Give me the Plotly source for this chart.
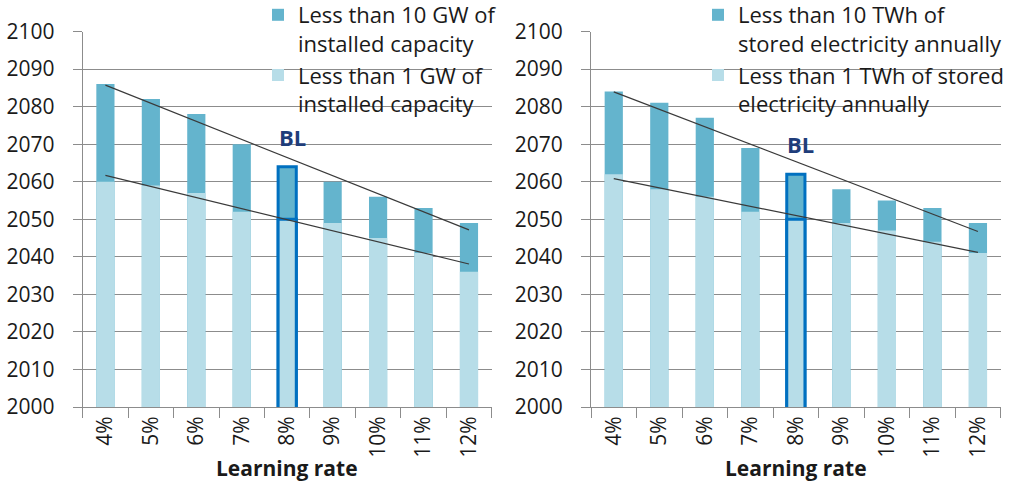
import numpy as np
import plotly.graph_objects as go

categories = ["4%", "5%", "6%", "7%", "8%", "9%", "10%", "11%", "12%"]

# Left chart: year when capacity installed falls below threshold
gw10 = [2086, 2082, 2078, 2070, 2064, 2060, 2056, 2053, 2049]
gw1 = [2060, 2059, 2057, 2052, 2050, 2049, 2045, 2041, 2036]

# Right chart: stored electricity annually
twh10 = [2084, 2081, 2077, 2069, 2062, 2058, 2055, 2053, 2049]
twh1 = [2062, 2058, 2056, 2052, 2050, 2049, 2047, 2044, 2041]

baseline = "8%"
y_ticks = list(range(2000, 2101, 10))

DARK = "#64B4CD"
LIGHT = "#B7DDE8"
HILITE = "#0070C0"
GRID = "#8C8C8C"
FONT = "Open Sans"
TXT = "#1a1a1a"

W, H = 1014, 482

def line_props(cats):
    colors = [HILITE if c == baseline else "rgba(0,0,0,0)" for c in cats]
    widths = [3 if c == baseline else 0 for c in cats]
    return dict(color=colors, width=widths)

def trend(vals):
    x = np.arange(len(vals))
    k, b = np.polyfit(x, vals, 1)
    return list(k * x + b)

fig = go.Figure()

panels = [
    ("x", "y", gw10, gw1, "Less than 10 GW of<br>installed capacity",
     "Less than 1 GW of<br>installed capacity", "legend"),
    ("x2", "y2", twh10, twh1, "Less than 10 TWh of<br>stored electricity annually",
     "Less than 1 TWh of stored<br>electricity annually", "legend2"),
]

for xa, ya, hi, lo, name_hi, name_lo, leg in panels:
    fig.add_trace(go.Bar(x=categories, y=hi, xaxis=xa, yaxis=ya, name=name_hi,
                         marker=dict(color=DARK, line=line_props(categories)),
                         width=0.4, legend=leg))
    fig.add_trace(go.Bar(x=categories, y=lo, xaxis=xa, yaxis=ya, name=name_lo,
                         marker=dict(color=LIGHT, line=line_props(categories)),
                         width=0.4, legend=leg))
    for vals in (hi, lo):
        fig.add_trace(go.Scatter(x=categories, y=trend(vals), xaxis=xa, yaxis=ya,
                                 mode="lines", line=dict(color="#3A3A3A", width=1.2),
                                 showlegend=False, hoverinfo="skip"))
    idx = categories.index(baseline)
    fig.add_annotation(x=baseline, y=hi[idx], xref=xa, yref=ya, text="<b>BL</b>",
                       showarrow=False, yanchor="bottom", xanchor="center",
                       yshift=13, xshift=5,
                       font=dict(family=FONT, size=22, color="#1F3D7A"))

ydom = [1 - 407 / H, 1 - 31.5 / H]
xdoms = [[82.7 / W, 491.7 / W], [591 / W, 1000.7 / W]]

axis_common_x = dict(type="category", showgrid=False, showline=True, linecolor=GRID,
                     linewidth=1, ticks="outside", tickson="boundaries", ticklen=10,
                     tickcolor=GRID, tickangle=-90, automargin=False,
                     tickfont=dict(family=FONT, size=21, color=TXT))
axis_common_y = dict(range=[2000, 2100], tickvals=y_ticks, showgrid=True, gridcolor=GRID,
                     gridwidth=1, showline=True, linecolor=GRID, linewidth=1,
                     ticks="outside", ticklen=9, tickcolor=GRID, zeroline=False,
                     automargin=False, ticklabelstandoff=14,
                     tickfont=dict(family=FONT, size=21, color=TXT))

legend_common = dict(yanchor="top", xanchor="left", bgcolor="rgba(0,0,0,0)",
                     valign="top", traceorder="normal", tracegroupgap=0,
                     font=dict(family=FONT, size=22, color=TXT))

fig.update_layout(
    width=W, height=H,
    margin=dict(l=0, r=0, t=0, b=0, autoexpand=False),
    paper_bgcolor="white", plot_bgcolor="white",
    barmode="overlay",
    xaxis=dict(domain=xdoms[0], anchor="y", **axis_common_x),
    yaxis=dict(domain=ydom, anchor="x", **axis_common_y),
    xaxis2=dict(domain=xdoms[1], anchor="y2", **axis_common_x),
    yaxis2=dict(domain=ydom, anchor="x2", **axis_common_y),
    legend=dict(x=258 / W, y=1 + 6 / H, **legend_common),
    legend2=dict(x=698 / W, y=1 + 6 / H, **legend_common),
    showlegend=True,
)

for dom in xdoms:
    fig.add_annotation(x=(dom[0] + dom[1]) / 2, y=1 - 468 / H, xref="paper", yref="paper",
                       text="<b>Learning rate</b>", showarrow=False,
                       xanchor="center", yanchor="middle",
                       font=dict(family=FONT, size=21, color=TXT))

fig.write_html("out.html", config={"displayModeBar": False},
               post_script="document.body.style.margin='0';document.body.style.overflow='hidden';")
